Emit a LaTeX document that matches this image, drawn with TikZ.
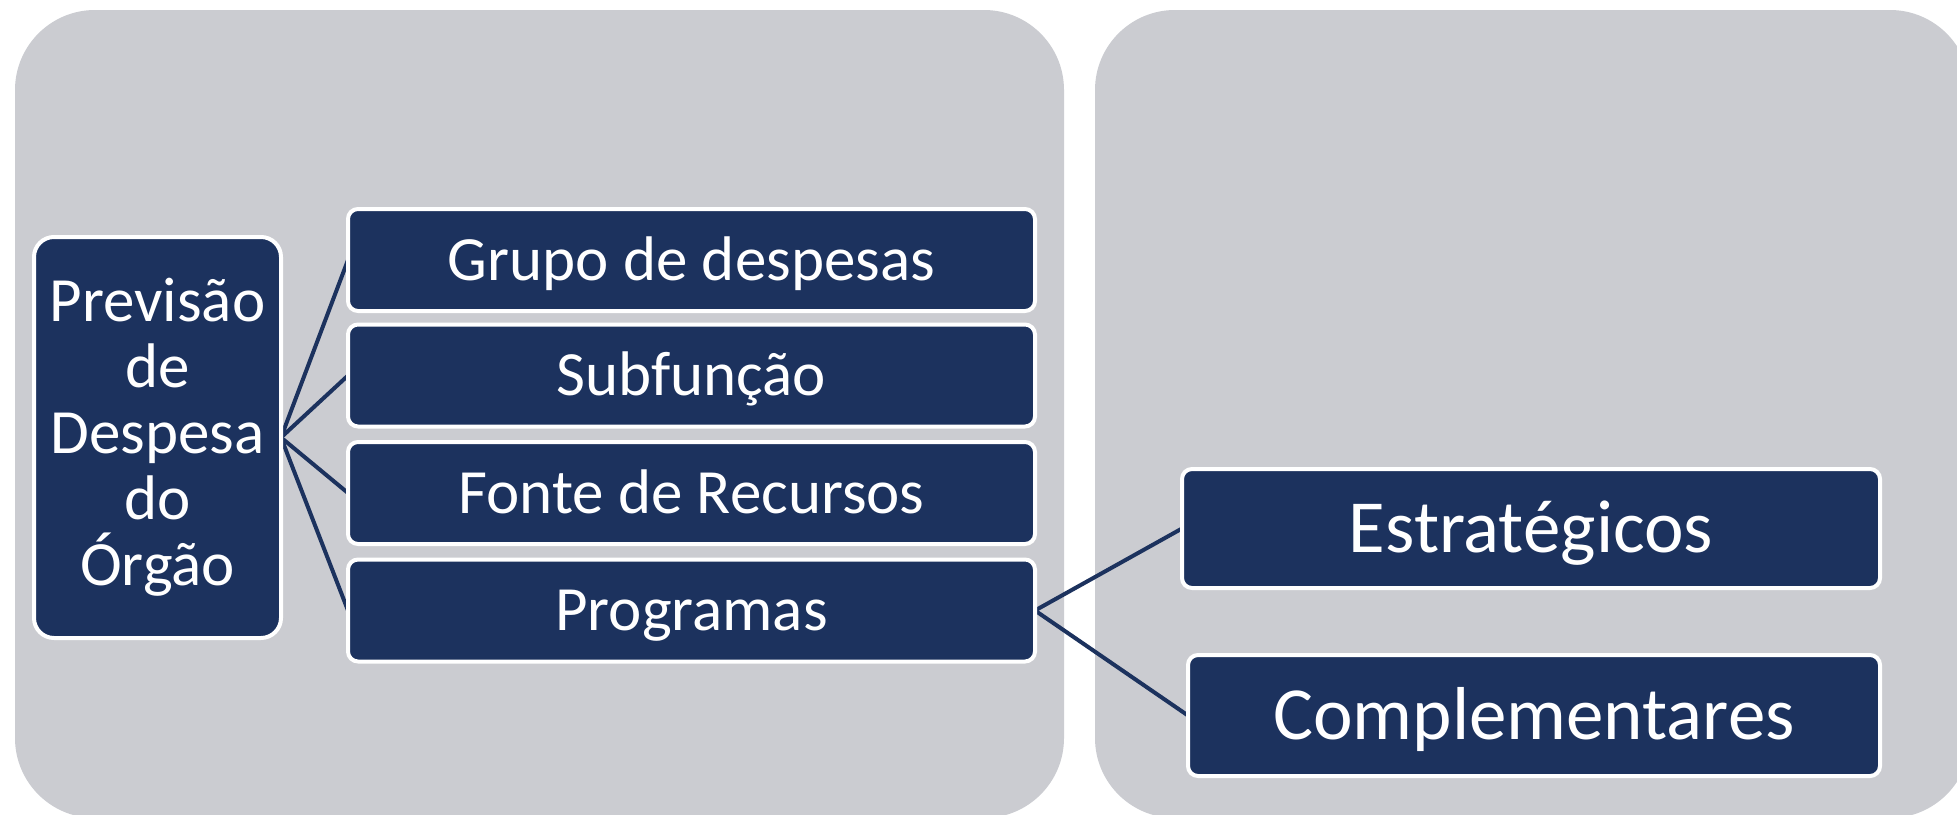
\documentclass[tikz,border=0pt]{standalone}
\usepackage{fontspec}
\setmainfont{Carlito}
\definecolor{navy}{HTML}{1C325E}
\definecolor{panelgrey}{HTML}{CBCCD1}
\pgfdeclarelayer{bg}
\pgfsetlayers{bg,main}
\begin{document}
\begin{tikzpicture}[x=1pt,y=-1pt,
  panelbox/.style={fill=panelgrey,rounded corners=80pt},
  bluebox/.style={draw=white,line width=4pt,fill=navy,rounded corners=10pt,text=white,
    inner sep=0pt,outer sep=0pt},
  rowbox/.style={bluebox,font=\fontsize{63}{66}\selectfont,text height=40pt,text depth=0pt,
    minimum width=687pt,minimum height=102pt},
  bigbox/.style={bluebox,font=\fontsize{75}{80}\selectfont,text height=48pt,text depth=0pt},
  link/.style={draw=navy,line width=4pt}]
\useasboundingbox (0,0) rectangle (1957,814);
\begin{pgfonlayer}{bg}
  \fill[white] (0,0) rectangle (1957,814);
  \fill[panelbox] (15,10) rectangle (1064,818);
  \fill[panelbox] (1095,10) rectangle (1970,818);
\end{pgfonlayer}

\node[bluebox,rounded corners=20pt,minimum width=247pt,minimum height=401pt,
  text width=240pt,align=center,font=\fontsize{63}{66}\selectfont] (prev) at (157.5,437.5)
  {Previsão\\de\\Despesa\\do\\Órgão};

\node[rowbox] (grupo) at (691.5,260) {Grupo de despesas};
\node[rowbox] (sub) at (691.5,375.5) {Subfunção};
\node[rowbox] (fonte) at (691.5,493) {Fonte de Recursos};
\node[rowbox] (prog) at (691.5,610.5) {Programas};

\node[bigbox,minimum width=698pt,minimum height=119pt] (estr) at (1531,528.5) {Estratégicos};
\node[bigbox,minimum width=692pt,minimum height=121pt] (comp) at (1534,715.5) {Complementares};

\begin{pgfonlayer}{bg}
  \draw[link] (prev.east) -- (grupo.west);
  \draw[link] (prev.east) -- (sub.west);
  \draw[link] (prev.east) -- (fonte.west);
  \draw[link] (prev.east) -- (prog.west);
  \draw[link] (prog.east) -- (estr.west);
  \draw[link] (prog.east) -- (comp.west);
\end{pgfonlayer}
\end{tikzpicture}
\end{document}
